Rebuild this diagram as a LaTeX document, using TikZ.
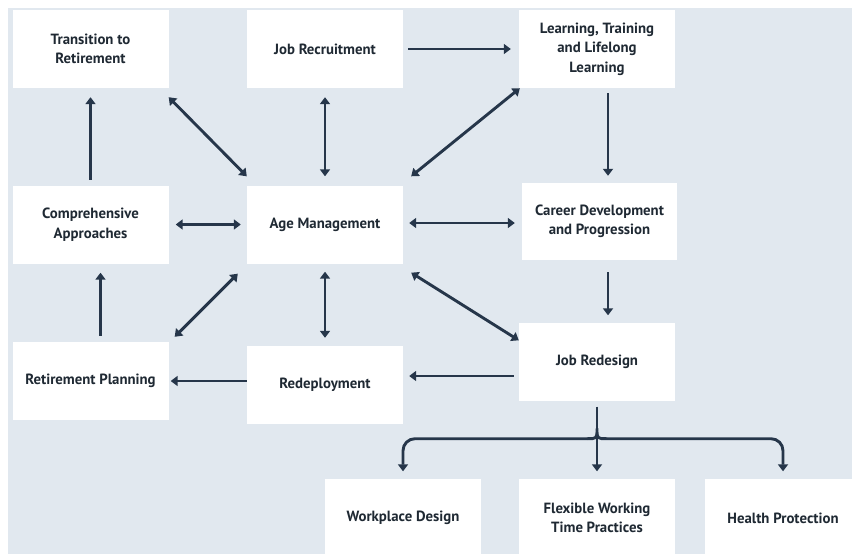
\documentclass[tikz,border=0pt]{standalone}
\usepackage{fontspec}
\setmainfont{PT Sans}
\usetikzlibrary{arrows.meta,calc}
\definecolor{panelblue}{HTML}{E1E8EF}
\definecolor{linkblue}{HTML}{26364A}
\definecolor{boxtext}{HTML}{1F2933}

\begin{document}
\begin{tikzpicture}[x=1pt,y=-1pt,
  box/.style={fill=white,minimum width=156pt,minimum height=78pt,inner sep=0pt,align=center,
    text=boxtext,font=\bfseries\fontsize{14.8}{19.5}\selectfont},
  conn/.style={draw=linkblue,line width=2.9pt,line join=round},
  tip/.style={-{Triangle[length=7pt,width=10pt]}},
  tips/.style={{Triangle[length=7pt,width=10pt]}-{Triangle[length=7pt,width=10pt]}}]
\clip (0,0) rectangle (852,554);
\fill[white] (0,0) rectangle (852,554);
\fill[panelblue] (8,8) rectangle (852,554);

\node[box] (trans) at (90.5,49) {Transition to\\Retirement};
\node[box] (recr) at (325,49) {Job Recruitment};
\node[box] (learn) at (597,49) {Learning, Training\\and Lifelong\\Learning};
\node[box] (compr) at (90.5,224.5) {Comprehensive\\Approaches};
\node[box] (age) at (325,224.5) {Age Management};
\node[box,minimum width=155pt,minimum height=77pt] (career) at (599.5,221.5) {Career Development\\and Progression};
\node[box] (plan) at (90.5,381) {Retirement Planning};
\node[box] (redep) at (325,385) {Redeployment};
\node[box] (redes) at (597,361.5) {Job Redesign};
\node[box] (work) at (403,518) {Workplace Design};
\node[box] (flex) at (597,518) {Flexible Working\\Time Practices};
\node[box] (health) at (783,518) {Health Protection};

\draw[conn,tip,shorten <=5.5pt,shorten >=9pt] (compr.north) -- (trans.south);
\draw[conn,tips] ([yshift=-9pt]trans.south east) -- ([yshift=9pt]age.north west);
\draw[conn,tips,shorten <=9pt,shorten >=9pt] (recr.south) -- (age.north);
\draw[conn,tip,shorten <=5pt,shorten >=8pt] (recr.east) -- (learn.west);
\draw[conn,tips] ([xshift=1pt]learn.south west) -- ([xshift=8pt,yshift=9pt]age.north east);
\draw[conn,tip,shorten <=5pt,shorten >=7pt] ([xshift=11pt]learn.south) -- ([xshift=11pt]learn.south |- career.north);
\draw[conn,tips,shorten <=7pt,shorten >=6pt] (compr.east) -- (age.west);
\draw[conn,tips,shorten <=6pt,shorten >=7pt] ([yshift=1.5pt]age.east) -- ([yshift=1.5pt]age.east -| career.west);
\draw[conn,tip,shorten <=6pt,shorten >=9pt] ([xshift=10pt]plan.north) -- ([xshift=10pt]compr.south);
\draw[conn,tips] ([xshift=6pt,yshift=5pt]plan.north east) -- ([xshift=-9pt,yshift=-10pt]age.south west);
\draw[conn,tips,shorten <=8pt,shorten >=8pt] (age.south) -- (redep.north);
\draw[conn,tips] ([xshift=8pt,yshift=-9pt]age.south east) -- ([yshift=-18pt]redes.north west);
\draw[conn,tip,shorten <=12pt,shorten >=7pt] ([xshift=8.5pt]career.south) -- ([xshift=8.5pt]career.south |- redes.north);
\draw[conn,tip,shorten >=2pt] ([yshift=4pt]redep.west) -- (plan.east);
\draw[conn,tip,shorten <=5pt,shorten >=6pt] ([yshift=-14.5pt]redes.west) -- ([yshift=-14.5pt]redes.west -| redep.east);

\coordinate (fork) at ([yshift=-28pt]redes.south);
\coordinate (bar) at ($(fork)+(0,10)$);
\draw[conn,tip,shorten <=6pt,shorten >=7.5pt] (redes.south) -- (flex.north);
\draw[conn] ($(bar)+(-10,0)$) .. controls (bar) .. (fork) .. controls (bar) .. ($(bar)+(10,0)$);
\draw[conn,tip,rounded corners=12pt] ($(bar)+(-10,0)$) -- (bar -| work.north) -- ([yshift=7.5pt]work.north);
\draw[conn,tip,rounded corners=12pt] ($(bar)+(10,0)$) -- (bar -| health.north) -- ([yshift=7.5pt]health.north);
\end{tikzpicture}
\end{document}
